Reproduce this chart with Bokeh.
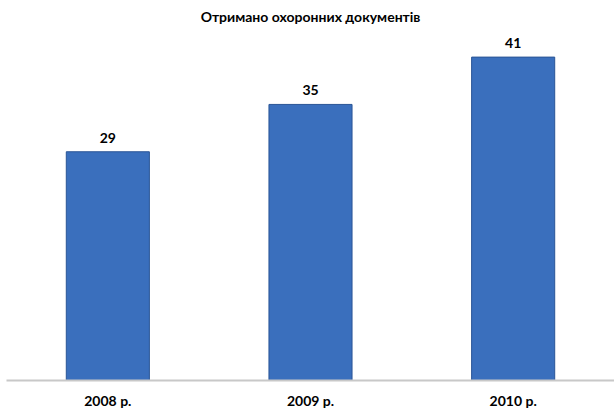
from bokeh.plotting import figure
from bokeh.models import ColumnDataSource, FactorRange, Range1d, LabelSet
from bokeh.core.properties import value
from bokeh.embed import file_html
from bokeh.resources import INLINE

years = ["2008 р.", "2009 р.", "2010 р."]
counts = [29, 35, 41]
title_text = "Отримано охоронних документів"

src = ColumnDataSource(data=dict(x=years, y=counts, lbl=[str(c) for c in counts]))

p = figure(x_range=FactorRange(*years, range_padding=0), y_range=Range1d(0, 44.5),
           width=614, height=411, output_backend="svg", toolbar_location=None,
           title=title_text, min_border_left=6, min_border_right=0, min_border_top=0,
           min_border_bottom=0)
p.title.align = "center"
p.title.text_font = "Lato"
p.title.text_font_size = "14px"
p.title.text_font_style = "bold"
p.title.text_color = "black"

p.vbar(x="x", top="y", width=0.41, source=src, fill_color="#3a6fbd",
       line_color="#2a5596", line_width=1)

labels = LabelSet(x="x", y="y", text="lbl", source=src, text_align="center",
                  y_offset=9, text_font=value("Lato"), text_font_style="bold",
                  text_font_size="14px", text_color="black")
p.add_layout(labels)

p.yaxis.visible = False
p.xgrid.grid_line_color = None
p.ygrid.grid_line_color = None
p.outline_line_color = None
p.xaxis.axis_line_color = "#c8c8c8"
p.xaxis.axis_line_width = 2
p.xaxis.major_tick_line_color = None
p.xaxis.minor_tick_line_color = None
p.xaxis.major_label_text_font = "Lato"
p.xaxis.major_label_text_font_style = "bold"
p.xaxis.major_label_text_font_size = "14px"
p.xaxis.major_label_text_color = "black"
p.xaxis.major_label_standoff = 5

open("out.html", "w").write(file_html(p, INLINE))
